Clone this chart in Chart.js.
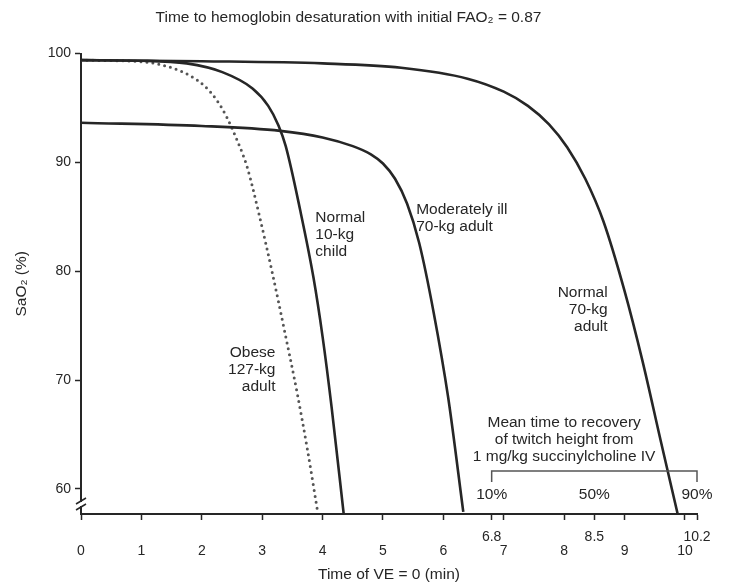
<!DOCTYPE html>
<html lang="en">
<head>
<meta charset="utf-8" />
<title>Time to hemoglobin desaturation</title>
<style>
*{box-sizing:border-box;margin:0;padding:0}
body{background:#fff;width:730px;height:584px;overflow:hidden}
.chart-wrapper{position:relative;width:730px;height:584px}
</style>
</head>
<body>
<div class="chart-wrapper"><canvas id="desat"></canvas></div>

<script src="https://cdn.jsdelivr.net/npm/chart.js@4.4.1"></script>
<script>
/* ─── values ─────────────────────────────────────────── */
const xTicks      = [0, 1, 2, 3, 4, 5, 6, 6.8, 7, 8, 8.5, 9, 10, 10.2];
const raisedTicks = [6.8, 8.5, 10.2];
const yTicks      = [60, 70, 80, 90, 100];

const obeseT    = [0, 1.1, 1.5, 1.8, 2.05, 2.25, 2.42, 2.58, 2.75, 2.95, 3.17, 3.36, 3.58, 3.75, 3.91];
const obeseSat  = [99.4, 99.2, 98.7, 98.0, 97.0, 95.7, 94.1, 92.1, 89.6, 85.2, 79.8, 74.8, 68.8, 63.6, 58.2];

const childT    = [0, 1, 1.75, 2.34, 2.84, 3.1, 3.27, 3.39, 3.63, 3.85, 4.0, 4.15, 4.35];
const childSat  = [99.4, 99.35, 99.1, 98.3, 96.8, 95.2, 93.4, 91.5, 85.6, 79.4, 74.0, 67.5, 57.7];

const illT      = [0, 2, 3.3, 4.0, 4.5, 4.8, 5.0, 5.2, 5.4, 5.6, 5.84, 6.08, 6.33];
const illSat    = [93.65, 93.35, 92.9, 92.3, 91.5, 90.75, 89.9, 88.5, 86.2, 82.6, 76.2, 68.4, 57.9];

const adultT    = [0, 2, 4, 5.3, 6.4, 7.0, 7.4, 7.75, 8.05, 8.35, 8.65, 9.0, 9.3, 9.6, 9.88];
const adultSat  = [99.4, 99.3, 99.1, 98.7, 97.7, 96.5, 95.2, 93.5, 91.4, 88.5, 84.6, 78.2, 71.7, 64.4, 57.7];

const recoveryTimes  = [6.8, 8.5, 10.2];
const recoveryLabels = ['10%', '50%', '90%'];

/* ─── styling ─────────────────────────────────────────── */
const INK  = '#262626';
const FONT = '"Liberation Sans", Arial, Helvetica, sans-serif';

Chart.defaults.font.family = FONT;
Chart.defaults.color = INK;

const pts = (ts, vs) => ts.map((t, i) => ({x: t, y: vs[i]}));

/* text placed on the plot, in data units */
const curveNotes = [
    {lines: ['Normal', '10-kg', 'child'],        t: 3.88, sat: 84.9, align: 'left'},
    {lines: ['Moderately ill', '70-kg adult'],   t: 5.55, sat: 85.65, align: 'left'},
    {lines: ['Normal', '70-kg', 'adult'],        t: 8.72, sat: 78.0, align: 'right'},
    {lines: ['Obese', '127-kg', 'adult'],        t: 3.22, sat: 72.5, align: 'right'},
    {lines: ['Mean time to recovery', 'of twitch height from', '1 mg/kg succinylcholine IV'],
                                                 t: 8.0,  sat: 66.1, align: 'center'}
];
const bracketSat = 61.65;
const recoveryLabelSat = 59.45;

const plotNotes = {
    id: 'plotNotes',
    afterDatasetsDraw(chart) {
        const {ctx, scales: {x, y}} = chart;
        ctx.save();
        ctx.fillStyle = INK;
        ctx.font = '15.5px ' + FONT;
        ctx.textBaseline = 'middle';
        curveNotes.forEach(n => {
            ctx.textAlign = n.align;
            n.lines.forEach((s, i) =>
                ctx.fillText(s, x.getPixelForValue(n.t), y.getPixelForValue(n.sat) + i * 17));
        });

        // recovery bracket
        const x0 = x.getPixelForValue(recoveryTimes[0]);
        const x1 = x.getPixelForValue(recoveryTimes[recoveryTimes.length - 1]);
        const yb = y.getPixelForValue(bracketSat);
        ctx.strokeStyle = '#555';
        ctx.lineWidth = 1.5;
        ctx.beginPath();
        ctx.moveTo(x0, yb + 11); ctx.lineTo(x0, yb); ctx.lineTo(x1, yb); ctx.lineTo(x1, yb + 11);
        ctx.stroke();

        ctx.textAlign = 'center';
        recoveryTimes.forEach((t, i) =>
            ctx.fillText(recoveryLabels[i], x.getPixelForValue(t), y.getPixelForValue(recoveryLabelSat)));
        ctx.restore();
    },
    afterDraw(chart) {
        // axis break on the y axis
        const {ctx, chartArea: a} = chart;
        const bx = a.left, by = a.bottom - 10;
        ctx.save();
        ctx.fillStyle = '#fff';
        ctx.fillRect(bx - 3, by - 2, 6, 4);
        ctx.strokeStyle = INK;
        ctx.lineWidth = 1.5;
        [-3, 3].forEach(d => {
            ctx.beginPath();
            ctx.moveTo(bx - 5, by + d + 3);
            ctx.lineTo(bx + 5, by + d - 3);
            ctx.stroke();
        });
        ctx.restore();
    }
};

const solid = (data) => ({
    data, borderColor: INK, borderWidth: 2.6, pointRadius: 0,
    cubicInterpolationMode: 'monotone', fill: false
});

new Chart(document.getElementById('desat'), {
    type: 'line',
    data: {
        datasets: [
            {
                data: pts(obeseT, obeseSat), borderColor: '#555', borderWidth: 3,
                borderDash: [0, 6], borderCapStyle: 'round', pointRadius: 0,
                cubicInterpolationMode: 'monotone', fill: false, order: 5
            },
            solid(pts(childT, childSat)),
            solid(pts(illT, illSat)),
            solid(pts(adultT, adultSat))
        ]
    },
    options: {
        responsive: true,
        maintainAspectRatio: false,
        animation: false,
        layout: {padding: {left: 0, right: 33, top: 0, bottom: 0}},
        plugins: {
            legend: {display: false},
            tooltip: {enabled: false},
            title: {
                display: true,
                text: 'Time to hemoglobin desaturation with initial FAO\u2082 = 0.87',
                color: INK,
                font: {size: 15.5, weight: 'normal'},
                padding: {top: 8, bottom: 27}
            }
        },
        scales: {
            x: {
                type: 'linear', min: 0, max: 10.2,
                afterBuildTicks: s => { s.ticks = xTicks.map(v => ({value: v})); },
                afterFit: s => { s.height = 70; },
                ticks: {
                    autoSkip: false, maxRotation: 0, padding: 10,
                    font: {size: 14, lineHeight: 1.0},
                    callback: v => raisedTicks.includes(v) ? [String(v), ''] : ['', String(v)]
                },
                grid: {drawOnChartArea: false, tickLength: 6, color: INK, tickWidth: 1.5},
                border: {color: INK, width: 2},
                title: {display: true, text: 'Time of VE = 0 (min)', font: {size: 15.5}, padding: {top: 0, bottom: 0}}
            },
            y: {
                min: 57.7, max: 100,
                afterBuildTicks: s => { s.ticks = yTicks.map(v => ({value: v})); },
                afterFit: s => { s.width = 81; },
                ticks: {padding: 4, font: {size: 14}},
                grid: {drawOnChartArea: false, tickLength: 6, color: INK, tickWidth: 1.5},
                border: {color: INK, width: 2},
                title: {display: true, text: 'SaO\u2082 (%)', font: {size: 15.5}, padding: {top: 12, bottom: 0}}
            }
        }
    },
    plugins: [plotNotes]
});
</script>
</body>
</html>
